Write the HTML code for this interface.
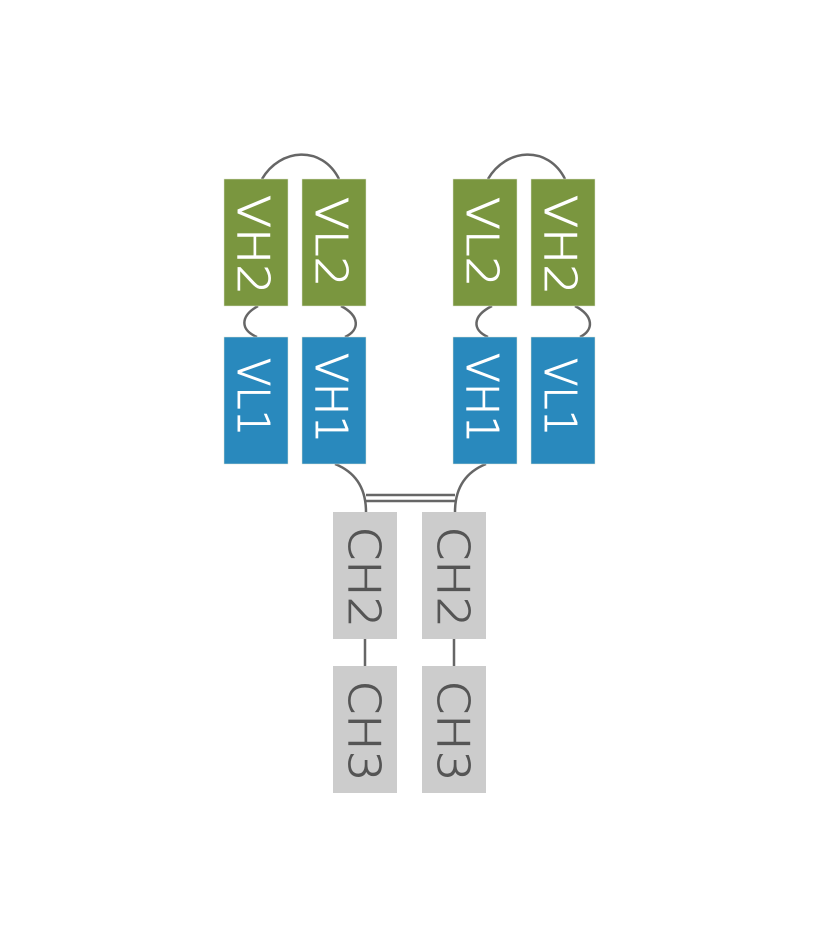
<!DOCTYPE html>
<html><head><meta charset="utf-8"><style>
html,body{margin:0;padding:0;background:#fff;}
svg{display:block;}
text{font-family:"DejaVu Sans","Liberation Sans",sans-serif;font-weight:200;font-size:44px;}
</style></head><body>
<svg width="820" height="946" viewBox="0 0 820 946" xmlns="http://www.w3.org/2000/svg">
<g fill="none" stroke="#666" stroke-width="2.5">
<path d="M262,179 C280,148 322,145 339,179"/>
<path d="M488,179 C506,148 548,145 565,179"/>
<path d="M258,306 C240,316 240,330 257,337"/>
<path d="M341,306 C360,316 360,330 345,337"/>
<path d="M492,306 C472,316 472,330 488,337"/>
<path d="M575,306 C594,316 594,330 580,337"/>
<path d="M335,464 C355,472 366,488 366,512"/>
<path d="M486,464 C466,472 455,488 455,512"/>
<path d="M366,495 H455 M366,501 H455"/>
<path d="M365,639 V666 M454,639 V666"/>
</g>
<g stroke="#dfe6d6" stroke-width="0.5">
<rect x="224" y="179" width="64" height="127" fill="#7a963f"/>
<rect x="302" y="179" width="64" height="127" fill="#7a963f"/>
<rect x="453" y="179" width="64" height="127" fill="#7a963f"/>
<rect x="531" y="179" width="64" height="127" fill="#7a963f"/>
<rect x="224" y="337" width="64" height="127" fill="#2989bd"/>
<rect x="302" y="337" width="64" height="127" fill="#2989bd"/>
<rect x="453" y="337" width="64" height="127" fill="#2989bd"/>
<rect x="531" y="337" width="64" height="127" fill="#2989bd"/>
</g>
<rect x="333" y="512" width="64" height="127" fill="#cccccc"/>
<rect x="422" y="512" width="64" height="127" fill="#cccccc"/>
<rect x="333" y="666" width="64" height="127" fill="#cccccc"/>
<rect x="422" y="666" width="64" height="127" fill="#cccccc"/>
<g transform="rotate(90)" text-anchor="middle" fill="#fff" stroke="#fff" stroke-width="0.9">
<text x="245" y="-238" textLength="100" lengthAdjust="spacingAndGlyphs">VH2</text>
<text x="242" y="-316" textLength="90" lengthAdjust="spacingAndGlyphs">VL2</text>
<text x="242" y="-467" textLength="90" lengthAdjust="spacingAndGlyphs">VL2</text>
<text x="245" y="-545" textLength="100" lengthAdjust="spacingAndGlyphs">VH2</text>
<text x="397" y="-238" textLength="78" lengthAdjust="spacingAndGlyphs">VL1</text>
<text x="398" y="-316" textLength="90" lengthAdjust="spacingAndGlyphs">VH1</text>
<text x="398" y="-467" textLength="90" lengthAdjust="spacingAndGlyphs">VH1</text>
<text x="397" y="-545" textLength="78" lengthAdjust="spacingAndGlyphs">VL1</text>
</g>
<g transform="rotate(90)" text-anchor="middle" fill="#555" stroke="#555" stroke-width="0.9">
<text x="577" y="-349" textLength="101" lengthAdjust="spacingAndGlyphs">CH2</text>
<text x="577" y="-438" textLength="101" lengthAdjust="spacingAndGlyphs">CH2</text>
<text x="731" y="-349" textLength="101" lengthAdjust="spacingAndGlyphs">CH3</text>
<text x="731" y="-438" textLength="101" lengthAdjust="spacingAndGlyphs">CH3</text>
</g>
</svg>
</body></html>
